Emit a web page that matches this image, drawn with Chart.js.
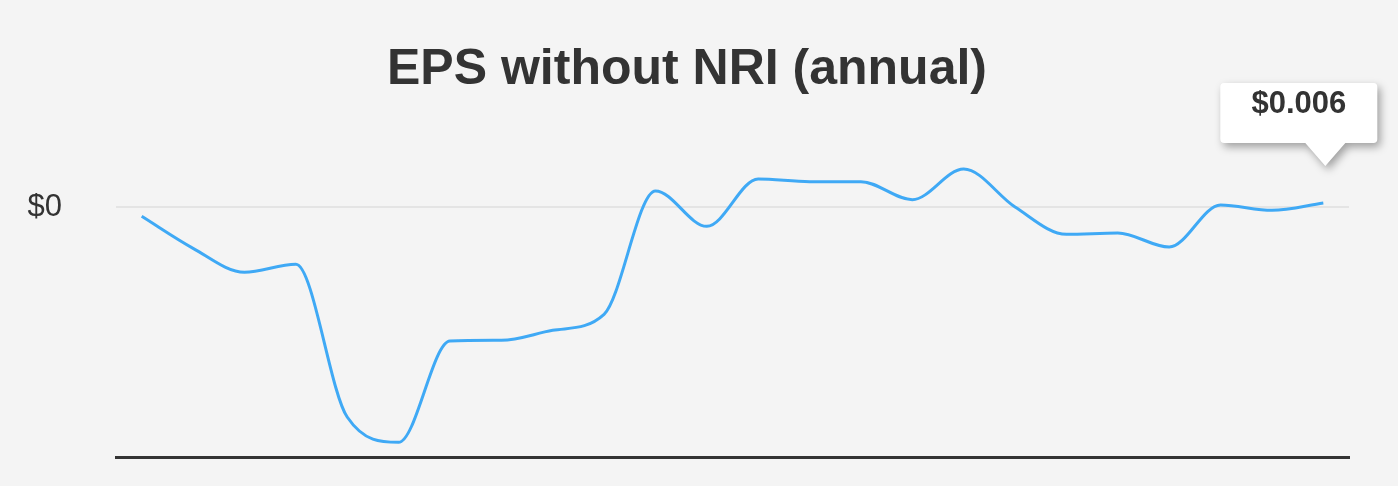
<!DOCTYPE html>
<html>
<head>
<meta charset="utf-8">
<script src="https://cdn.jsdelivr.net/npm/chart.js@4"></script>
<style>
  html, body { margin: 0; padding: 0; background: #f4f4f4; }
  #wrap { width: 1398px; height: 486px; }
</style>
</head>
<body>
<div id="wrap"><canvas id="epsChart" width="1398" height="486"></canvas></div>
<script>
// fiscal years (x axis labels are not shown in the picture)
var years = ["2001","2002","2003","2004","2005","2006","2007","2008","2009","2010","2011","2012",
             "2013","2014","2015","2016","2017","2018","2019","2020","2021","2022","2023","2024"];

// EPS without NRI
var eps = [-0.014, -0.062, -0.098, -0.086, -0.315, -0.353, -0.201, -0.200, -0.185, -0.161, 0.024, -0.029,
           0.042, 0.038, 0.038, 0.011, 0.057, 0.000, -0.041, -0.039, -0.060, 0.003, -0.005, 0.006];

// only one tick is shown on the y axis
var yTicks = [0];

var chartTitle = "EPS without NRI (annual)";
var lineColor = "#3fa9f5";
var textColor = "#333333";
var fontFamily = "'Liberation Sans', Arial, sans-serif";

// title drawn by hand, it sits a little left of the canvas centre
var titlePlugin = {
    id: "titleText",
    afterDraw: function(chart) {
        var ctx = chart.ctx;
        ctx.save();
        ctx.fillStyle = textColor;
        ctx.font = "bold 50px " + fontFamily;
        ctx.textAlign = "center";
        ctx.textBaseline = "middle";
        ctx.fillText(chartTitle, 687, 70);
        ctx.restore();
    }
};

// tooltip-like box pinned on the last point
var lastPointBox = {
    id: "lastPointBox",
    afterDraw: function(chart) {
        var meta = chart.getDatasetMeta(0);
        var pt = meta.data[meta.data.length - 1];
        var ctx = chart.ctx;

        var tipX = pt.x + 2;
        var tipY = pt.y - 37;
        var left = pt.x - 103;
        var right = pt.x + 54;
        var bottom = tipY - 23;
        var top = bottom - 60;
        var r = 4;

        ctx.save();
        ctx.shadowColor = "rgba(0,0,0,0.35)";
        ctx.shadowBlur = 9;
        ctx.shadowOffsetX = 3;
        ctx.shadowOffsetY = 4;
        ctx.fillStyle = "#ffffff";
        ctx.beginPath();
        ctx.moveTo(left + r, top);
        ctx.lineTo(right - r, top);
        ctx.quadraticCurveTo(right, top, right, top + r);
        ctx.lineTo(right, bottom - r);
        ctx.quadraticCurveTo(right, bottom, right - r, bottom);
        ctx.lineTo(tipX + 20, bottom);
        ctx.lineTo(tipX, tipY);
        ctx.lineTo(tipX - 20, bottom);
        ctx.lineTo(left + r, bottom);
        ctx.quadraticCurveTo(left, bottom, left, bottom - r);
        ctx.lineTo(left, top + r);
        ctx.quadraticCurveTo(left, top, left + r, top);
        ctx.closePath();
        ctx.fill();
        ctx.restore();

        ctx.save();
        ctx.fillStyle = textColor;
        ctx.font = "bold 31px " + fontFamily;
        ctx.textAlign = "center";
        ctx.textBaseline = "middle";
        ctx.fillText("$" + eps[eps.length - 1].toFixed(3), (left + right) / 2, top + 21);
        ctx.restore();
    }
};

new Chart(document.getElementById("epsChart"), {

    type: "line",

    data: {
        labels: years,
        datasets: [{
            label: "EPS without NRI",
            data: eps,
            borderColor: lineColor,
            borderWidth: 3,
            pointRadius: 0,
            fill: false,
            cubicInterpolationMode: "monotone"
        }]
    },

    options: {
        responsive: false,
        animation: false,
        layout: {
            padding: { left: 0, right: 49, top: 150, bottom: 29 }
        },
        scales: {
            x: {
                offset: true,
                ticks: { display: false },
                grid: { display: false, drawTicks: false },
                border: { display: true, color: "#333333", width: 3 },
                afterFit: function(scale) {
                    scale.height = 0;
                }
            },
            y: {
                min: -0.375,
                max: 0.0855,
                afterBuildTicks: function(scale) {
                    scale.ticks = yTicks.map(function(v) { return { value: v }; });
                },
                afterFit: function(scale) {
                    scale.width = 116;
                    scale.paddingTop = 0;
                    scale.paddingBottom = 0;
                },
                ticks: {
                    padding: 54,
                    color: textColor,
                    font: { family: fontFamily, size: 31 },
                    callback: function(v) { return "$" + v; }
                },
                grid: { color: "#e4e4e4", lineWidth: 2, drawTicks: false },
                border: { display: false }
            }
        },
        plugins: {
            legend: { display: false },
            tooltip: { enabled: false },
            title: { display: false }
        }
    },

    plugins: [titlePlugin, lastPointBox]

});
</script>
</body>
</html>
